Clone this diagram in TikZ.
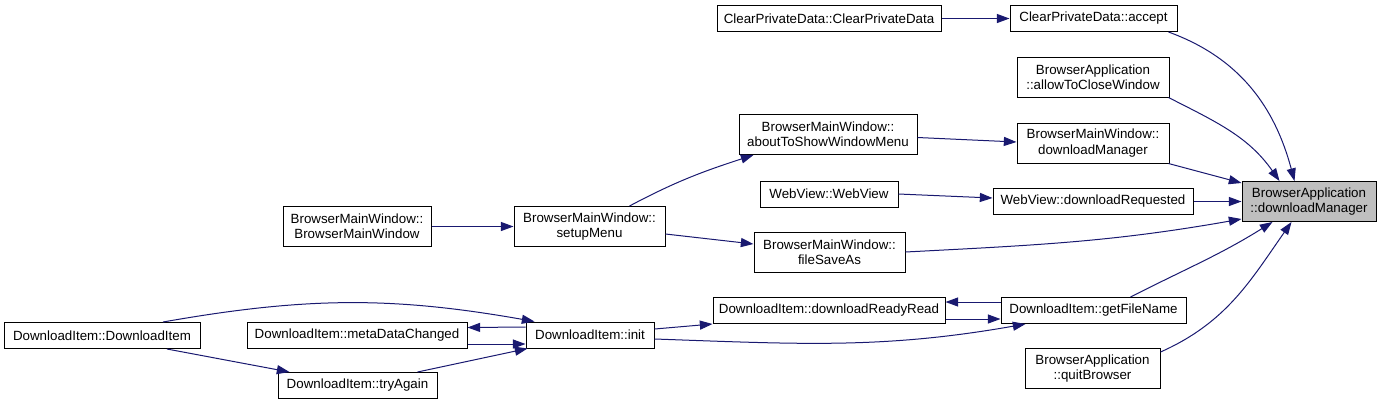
\documentclass[tikz,border=0pt]{standalone}
\usepackage{fontspec}
\setmainfont{Liberation Sans}
\usetikzlibrary{arrows.meta,calc}
\definecolor{edgeblue}{HTML}{191970}

\begin{document}
\begin{tikzpicture}[
    x=0.75pt, y=0.75pt,
    font=\fontsize{10}{11.5}\selectfont,
    fn/.style={draw, line width=0.75pt, inner sep=0pt, minimum height=19.5pt, align=center},
    fntwo/.style={draw, line width=0.75pt, inner sep=0pt, minimum height=30pt, align=center},
    current/.style={fill=gray!50},
    callarrow/.style={draw=edgeblue, line width=0.75pt, -{Triangle[length=9.5pt,width=6.8pt]}}
]
\useasboundingbox (0,0) rectangle (1381,-405);

\node[fntwo, current, minimum width=100.5pt] (baDm) at (1309,-201.5) {BrowserApplication\\::downloadManager};

\node[fn, minimum width=125.25pt] (cpdAccept) at (1093.5,-18.5) {ClearPrivateData::accept};
\node[fntwo, minimum width=114pt] (baAllow) at (1093,-77) {BrowserApplication\\::allowToCloseWindow};
\node[fntwo, minimum width=114pt] (bmwDm) at (1093,-143) {BrowserMainWindow::\\downloadManager};
\node[fn, minimum width=150pt] (wvDr) at (1093,-201.5) {WebView::downloadRequested};
\node[fn, minimum width=138.75pt] (diGfn) at (1093.5,-310.5) {DownloadItem::getFileName};
\node[fntwo, minimum width=101.25pt] (baQuit) at (1092.5,-368.5) {BrowserApplication\\::quitBrowser};

\node[fn, minimum width=168pt] (cpdCtor) at (829,-18.5) {ClearPrivateData::ClearPrivateData};
\node[fntwo, minimum width=133.5pt] (bmwAbout) at (828,-134.5) {BrowserMainWindow::\\aboutToShowWindowMenu};
\node[fn, minimum width=103.5pt] (wvCtor) at (829,-194) {WebView::WebView};
\node[fntwo, minimum width=113.25pt] (bmwFsa) at (829.5,-252) {BrowserMainWindow::\\fileSaveAs};
\node[fn, minimum width=174pt] (diDrr) at (829,-310.5) {DownloadItem::downloadReadyRead};

\node[fntwo, minimum width=113.25pt] (bmwSetup) at (589.5,-226.5) {BrowserMainWindow::\\setupMenu};
\node[fn, minimum width=96pt] (diInit) at (590,-335) {DownloadItem::init};

\node[fntwo, minimum width=111pt] (bmwCtor) at (357,-226.5) {BrowserMainWindow::\\BrowserMainWindow};
\node[fn, minimum width=165pt] (diMeta) at (357,-335.5) {DownloadItem::metaDataChanged};
\node[fn, minimum width=119.25pt] (diTry) at (357.5,-385.5) {DownloadItem::tryAgain};

\node[fn, minimum width=147pt] (diCtor) at (102,-335.5) {DownloadItem::DownloadItem};

\draw[callarrow] (cpdCtor.east) -- (cpdAccept.west);
\draw[callarrow] ($(cpdAccept.south east)+(-9,0)$) to[out=-20,in=105] ($(baDm.north west)+(53,0)$);
\draw[callarrow] ($(baAllow.south east)+(-1,0)$) to[out=-27,in=125] ($(baDm.north west)+(38,0)$);
\draw[callarrow] ($(bmwDm.south east)+(-1,0)$) -- ($(baDm.north west)+(0,-2)$);
\draw[callarrow] (wvDr.east) -- (wvDr.east -| baDm.west);
\draw[callarrow] (bmwFsa.east) to[out=3,in=-170] ($(baDm.south west)+(0,3)$);
\draw[callarrow] ($(diGfn.north)+(37,0)$) to[out=27,in=-148] ($(baDm.south west)+(31,0)$);
\draw[callarrow] ($(baQuit.north east)+(0,-4)$) to[out=24,in=-125] ($(baDm.south west)+(50,0)$);

\draw[callarrow] ($(bmwAbout.east)+(0,-3)$) -- ($(bmwDm.west)+(0,1)$);
\draw[callarrow] (wvCtor.east) -- ($(wvDr.west)+(0,3.5)$);
\draw[callarrow] ($(bmwSetup.north)+(40,0)$) to[out=28,in=-162] ($(bmwAbout.south west)+(15,0)$);
\draw[callarrow] ($(bmwSetup.east)+(0,-7.5)$) -- ($(bmwFsa.west)+(0,8)$);
\draw[callarrow] (bmwCtor.east) -- (bmwSetup.west);

\draw[callarrow] ($(diInit.east)+(0,6)$) -- (diDrr.south west);
\draw[callarrow] ($(diInit.east)+(0,-4)$) to[out=-2,in=-170] ($(diGfn.south west)+(25,0)$);
\draw[callarrow] ($(diDrr.east)+(0,-8.5)$) -- ($(diGfn.west)+(0,-8.5)$);
\draw[callarrow] ($(diGfn.west)+(0,8.5)$) -- ($(diDrr.east)+(0,8.5)$);
\draw[callarrow] ($(diCtor.north)+(61,0)$) to[out=10,in=170] ($(diInit.north west)+(9,0)$);
\draw[callarrow] ($(diInit.west)+(0,8)$) -- ($(diMeta.east)+(0,8)$);
\draw[callarrow] ($(diMeta.east)+(0,-8.5)$) -- ($(diInit.west)+(0,-9)$);
\draw[callarrow] ($(diCtor.south)+(65,0)$) -- ($(diTry.north west)+(12,0)$);
\draw[callarrow] ($(diTry.north east)+(-20,0)$) -- ($(diInit.south west)+(2,0)$);
\end{tikzpicture}
\end{document}
